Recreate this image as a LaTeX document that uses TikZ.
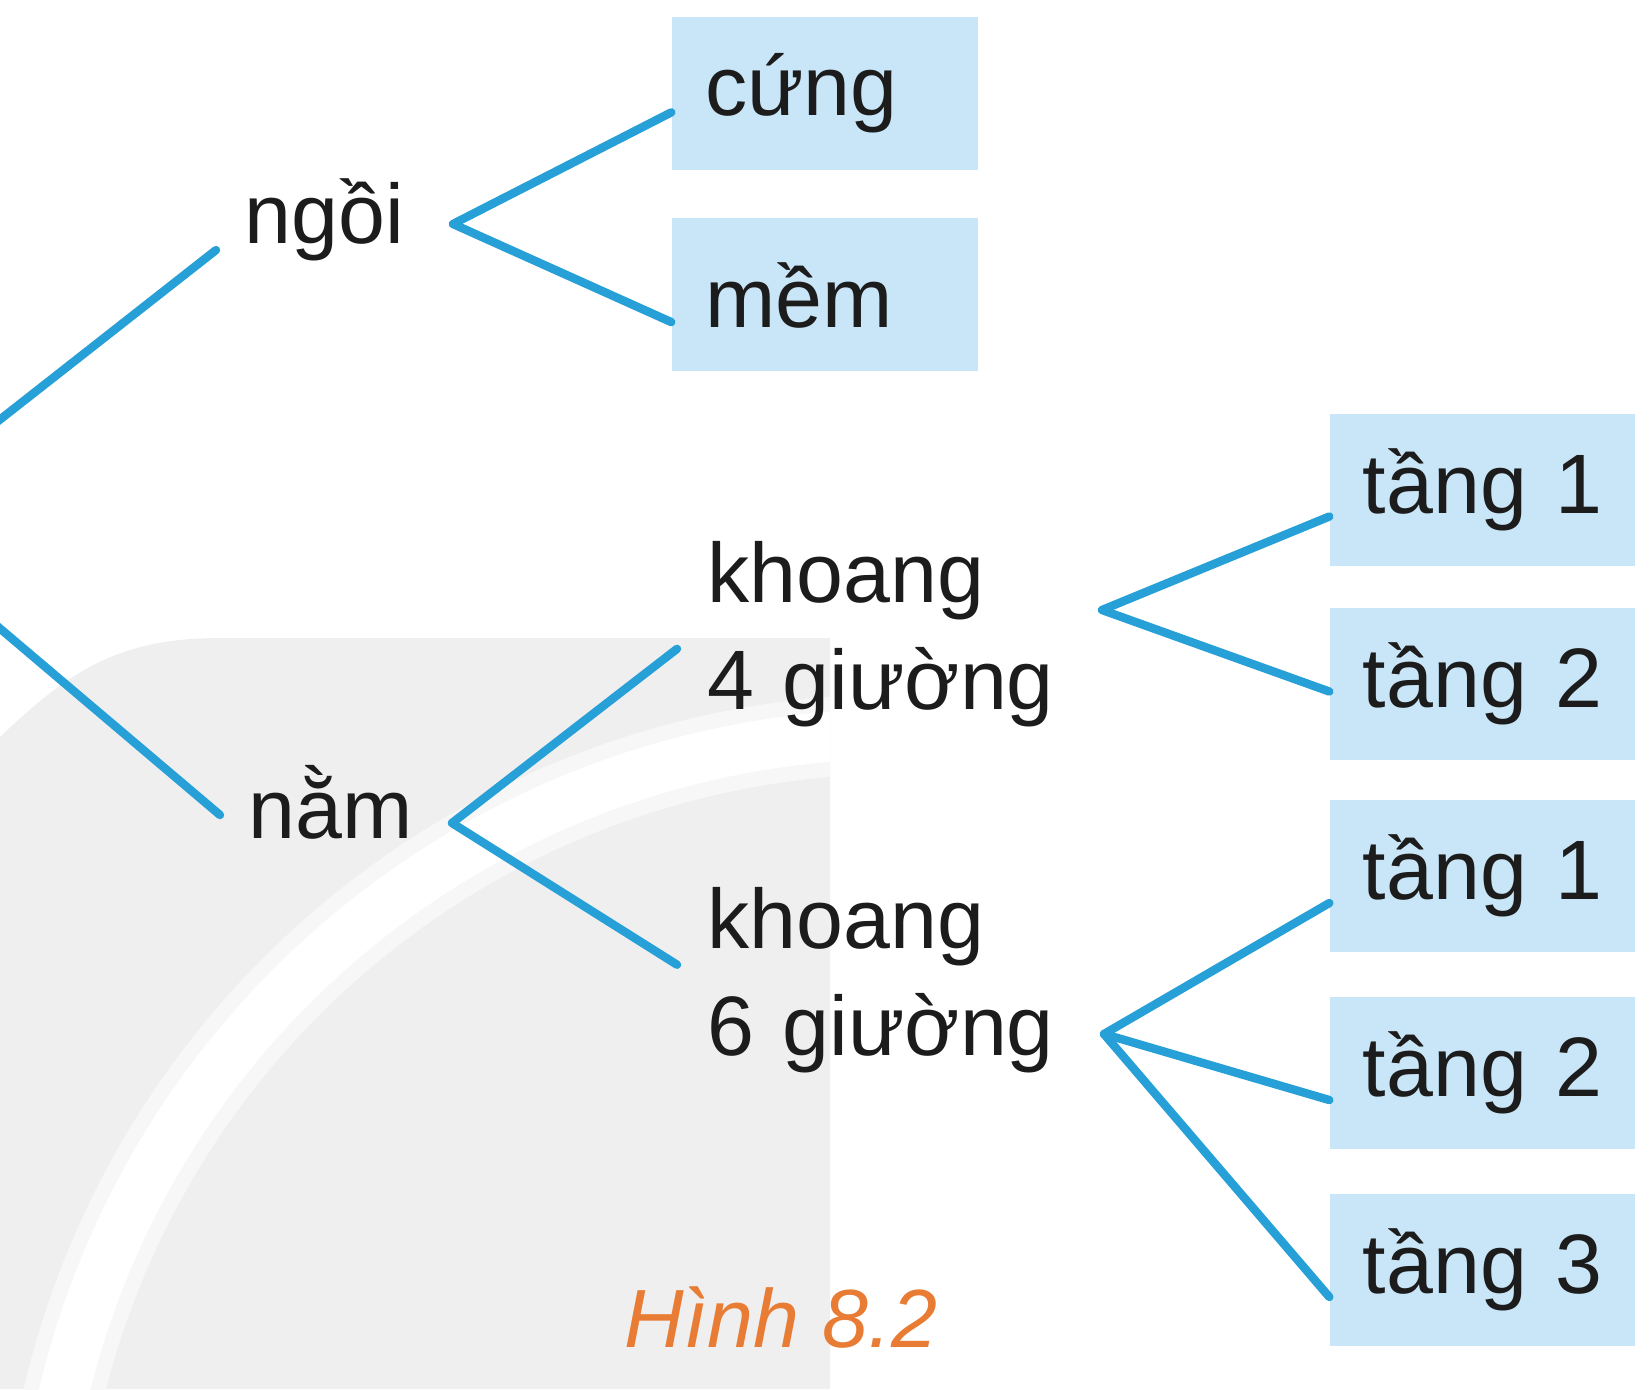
\documentclass[tikz,border=0pt]{standalone}
\usepackage{fontspec}
\setmainfont{Liberation Sans}
\usepackage{xcolor}
\usetikzlibrary{positioning}
\definecolor{linkblue}{RGB}{38,160,215}
\definecolor{boxblue}{RGB}{201,230,248}
\definecolor{bggray}{RGB}{239,239,239}
\definecolor{inkblack}{RGB}{28,28,28}
\definecolor{capcolor}{RGB}{232,124,52}
\tikzstyle{word} = [inner xsep=0.28cm, inner ysep=0pt, text height=0.62cm, text depth=0.16cm, text=inkblack]
\tikzstyle{stack} = [inner xsep=0.3cm, inner ysep=0pt, text width=3.7cm, align=left, text=inkblack]
\tikzstyle{seatbox} = [rectangle, fill=boxblue, minimum height=1.53cm, text width=2.4cm, inner xsep=0.33cm, align=left, text=inkblack]
\tikzstyle{tierbox} = [rectangle, fill=boxblue, minimum height=1.52cm, text width=2.45cm, inner xsep=0.3cm, align=center, text=inkblack]
\tikzstyle{figcap} = [text=capcolor, font=\fontsize{23.5}{28}\selectfont\itshape]
\tikzstyle{branch} = [draw=linkblue, line width=2.4pt, line cap=round]

\begin{document}
\begin{tikzpicture}[font=\fontsize{24}{30.5}\selectfont, node distance=1.97cm]
			\useasboundingbox (0,0) rectangle (16.52,-13.89);
			\clip (0,0) rectangle (16.52,-13.89);
			
			% background
			\fill [bggray] (0,-13.89) -- (0,-7.37) .. controls (0.7,-6.7) and (1.2,-6.38) .. (2.2,-6.38) -- (8.3,-6.38) -- (8.3,-13.89) -- cycle;
			\begin{scope}
				\clip (0,-13.89) rectangle (8.3,-6.38);
				\draw [black!3, line width=0.8cm] (9,-15.94) ++(168:8.6) arc (168:92:8.6);
				\draw [white, line width=0.5cm] (9,-15.94) ++(168:8.6) arc (168:92:8.6);
			\end{scope}
			
			\node (ngoi) [word, anchor=base west] at (2.16,-2.44) {ngồi};
			\node (nam) [word, anchor=base west] at (2.20,-8.38) {nằm};
			
			\node (cung) [seatbox] at (8.25,-0.935) {cứng};
			\node (mem) [seatbox, node distance=2.015cm, below of=cung] {mềm};
			
			\node (k4) [stack, anchor=base west] at (6.77,-6.02) {khoang\\4 giường};
			\node (k6) [stack, anchor=base west] at (6.77,-9.48) {khoang\\6 giường};
			
			\node (t41) [tierbox] at (14.825,-4.895) {tầng 1};
			\node (t42) [tierbox, node distance=1.94cm, below of=t41] {tầng 2};
			\node (t61) [tierbox] at (14.825,-8.76) {tầng 1};
			\node (t62) [tierbox, below of=t61] {tầng 2};
			\node (t63) [tierbox, below of=t62] {tầng 3};
			
			\node (caption) [figcap, anchor=base] at (7.81,-13.47) {Hình 8.2};
			
			\coordinate (root) at (-1.28,-5.2);
			\coordinate (ngoi-r) at (4.53,-2.24);
			\coordinate (nam-r) at (4.52,-8.23);
			\coordinate (k4-r) at (11.02,-6.10);
			\coordinate (k6-r) at (11.04,-10.34);
			
			\draw [branch] (root) -- (ngoi.195);
			\draw [branch] (root) -- (nam.west);
			\draw [branch] (ngoi-r) -- (cung.187);
			\draw [branch] (ngoi-r) -- (mem.190);
			\draw [branch] (nam-r) -- (k4.184);
			\draw [branch] (nam-r) -- (k6.176);
			\draw [branch] (k4-r) -- (t41.190);
			\draw [branch] (k4-r) -- (t42.183);
			\draw [branch] (k6-r) -- (t61.190);
			\draw [branch] (k6-r) -- (t62.190);
			\draw [branch] (k6-r) -- (t63.190);
			
\end{tikzpicture}
\end{document}
